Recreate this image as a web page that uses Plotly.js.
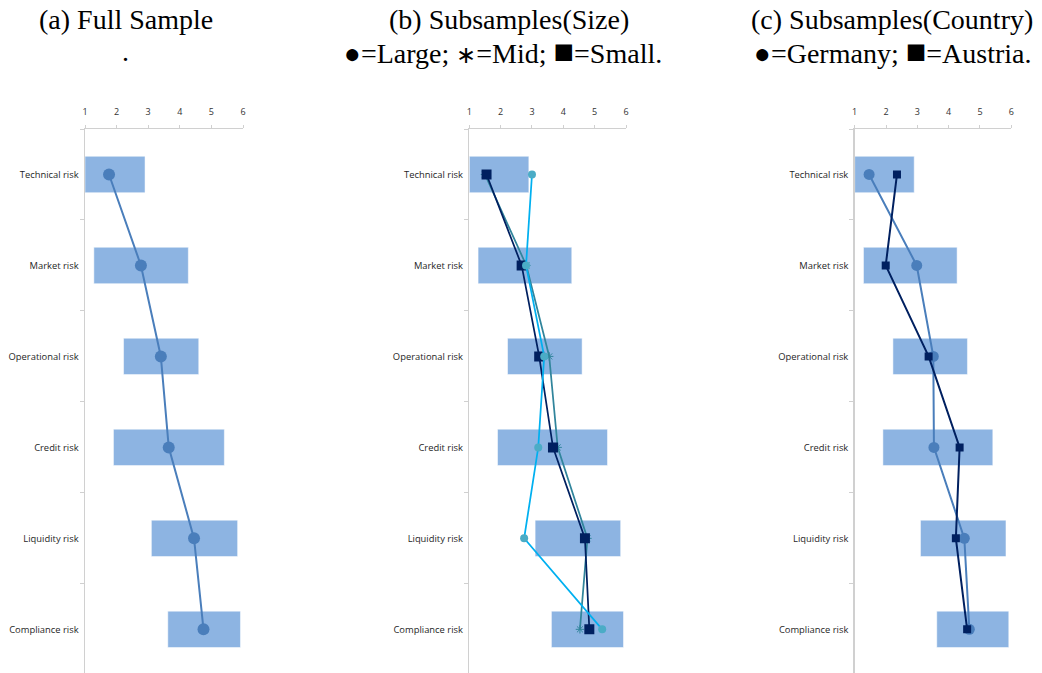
<!DOCTYPE html>
<html>
<head>
<meta charset="utf-8">
<script src="https://cdn.plot.ly/plotly-3.0.1.min.js"></script>
<style>html,body{margin:0;padding:0;overflow:hidden;background:#fff;}</style>
</head>
<body>
<div id="chart" style="width:1042px;height:673px;"></div>
<script>
const categories = ['Technical risk','Market risk','Operational risk','Credit risk','Liquidity risk','Compliance risk'];
const rangeLow  = [1.00, 1.28, 2.22, 1.90, 3.10, 3.62];
const rangeHigh = [2.90, 4.27, 4.60, 5.41, 5.83, 5.92];
const fullSample = [1.76, 2.77, 3.40, 3.65, 4.45, 4.75];
const sizeLarge  = [3.00, 2.81, 3.39, 3.20, 2.75, 5.24];
const sizeMid    = [1.50, 2.82, 3.55, 3.82, 4.77, 4.53];
const sizeSmall  = [1.55, 2.67, 3.23, 3.67, 4.69, 4.83];
const countryGermany = [1.46, 2.98, 3.51, 3.53, 4.50, 4.66];
const countryAustria = [2.35, 1.99, 3.36, 4.35, 4.23, 4.59];
const xTicks = [1, 2, 3, 4, 5, 6];
const titles = ['(a) Full Sample', '(b) Subsamples(Size)', '(c) Subsamples(Country)'];
const BUL = '\u25CF';
const AST = '<span style="font-size:24px">\u2217</span>';
const SQ = '<span style="font-size:34px">\u25A0</span>';
const subtitles = ['.', BUL + '=Large; ' + AST + '=Mid; ' + SQ + '=Small.', BUL + '=Germany; ' + SQ + '=Austria.'];

const W = 1042, H = 673;
const barColor = '#8DB4E2';
const spans = rangeHigh.map((h, i) => h - rangeLow[i]);

function barTrace(ax) {
  return {
    type: 'bar', orientation: 'h', y: categories, x: spans, base: rangeLow,
    width: 0.4, marker: {color: barColor, line: {color: 'rgba(255,255,255,0.5)', width: 1}},
    xaxis: 'x' + ax, yaxis: 'y' + ax, hoverinfo: 'skip'
  };
}
function lineTrace(ax, vals, color, mcolor, symbol, size, lw) {
  return {
    type: 'scatter', mode: 'lines+markers', y: categories, x: vals,
    line: {color: color, width: lw},
    marker: {symbol: symbol, size: size, color: mcolor, line: {color: mcolor, width: symbol.indexOf('asterisk') >= 0 ? 1 : 0}},
    xaxis: 'x' + ax, yaxis: 'y' + ax
  };
}

const data = [
  barTrace(''), barTrace('2'), barTrace('3'),
  lineTrace('', fullSample, '#4A7EBB', '#4A7EBB', 'circle', 12, 2),
  lineTrace('2', sizeMid, '#31859C', '#31859C', 'asterisk-open', 7, 1.75),
  lineTrace('2', sizeSmall, '#002060', '#002060', 'square', 10, 1.75),
  lineTrace('2', sizeLarge, '#00B0F0', '#4BACC6', 'circle', 8, 1.75),
  lineTrace('3', countryGermany, '#4A7EBB', '#4A7EBB', 'circle', 11, 2),
  lineTrace('3', countryAustria, '#002060', '#002060', 'square', 8, 2)
];

const plotLeft = [85, 469.3, 854.7];
const plotRight = [243, 626, 1011.3];
const yTop = 1 - 129 / H;

function xAxis(i) {
  return {
    domain: [plotLeft[i] / W, plotRight[i] / W], range: [1, 6], tickvals: xTicks,
    side: 'top', anchor: i === 0 ? 'y' : 'y' + (i + 1),
    showgrid: false, zeroline: false, showline: true, linecolor: '#D0D0D0', linewidth: 1.2,
    ticks: 'outside', ticklen: 3, tickcolor: '#D0D0D0', ticklabelstandoff: 6,
    tickfont: {family: 'Open Sans', size: 9, color: '#333333'}
  };
}
function yAxis(i) {
  return {
    domain: [0, yTop], type: 'category', range: [5.48, -0.5],
    anchor: i === 0 ? 'x' : 'x' + (i + 1),
    showgrid: false, zeroline: false, showline: true, linecolor: '#D0D0D0', linewidth: 1.5,
    ticks: 'outside', tickson: 'boundaries', ticklen: 4, tickcolor: '#D0D0D0',
    ticklabelstandoff: 3,
    tickfont: {family: 'Open Sans', size: 9.4, color: '#1F1F1F'}
  };
}

const titleX = [126, 509, 892];
const subX = [125, 503, 892];
const annotations = [];
for (let i = 0; i < 3; i++) {
  annotations.push({xref: 'paper', yref: 'paper', x: titleX[i] / W, y: 1 - 19 / H,
    xanchor: 'center', yanchor: 'middle', showarrow: false, text: titles[i],
    font: {family: 'Liberation Serif, serif', size: 28, color: '#000'}});
  annotations.push({xref: 'paper', yref: 'paper', x: subX[i] / W, y: 1 - 52 / H,
    xanchor: 'center', yanchor: 'middle', showarrow: false, text: subtitles[i],
    font: {family: 'Liberation Serif, serif', size: 28, color: '#000'}});
}

const layout = {
  width: W, height: H, autosize: false,
  margin: {l: 0, r: 0, t: 0, b: 0, pad: 0},
  paper_bgcolor: '#fff', plot_bgcolor: '#fff', showlegend: false,
  barmode: 'overlay',
  xaxis: xAxis(0), xaxis2: xAxis(1), xaxis3: xAxis(2),
  yaxis: yAxis(0), yaxis2: yAxis(1), yaxis3: yAxis(2),
  annotations: annotations
};

Plotly.newPlot('chart', data, layout, {displayModeBar: false, staticPlot: true});
</script>
</body>
</html>
